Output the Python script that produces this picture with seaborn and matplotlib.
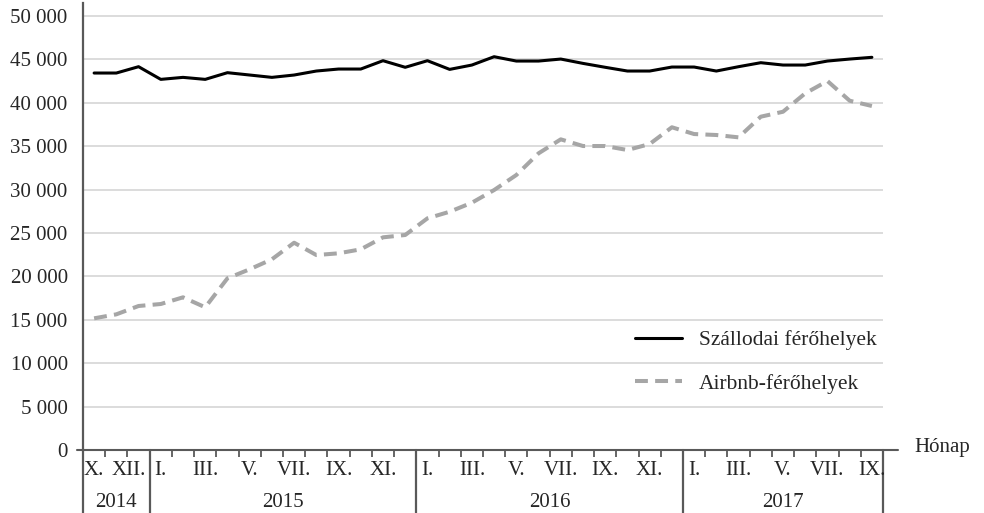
import numpy as np
import pandas as pd
import matplotlib
matplotlib.use('Agg')
import matplotlib.pyplot as plt
import seaborn as sns

# havi adatok 2014. X. - 2017. IX.
honap_cimkek = ['X.', '', 'XII.',
                'I.', '', 'III.', '', 'V.', '', 'VII.', '', 'IX.', '', 'XI.', '',
                'I.', '', 'III.', '', 'V.', '', 'VII.', '', 'IX.', '', 'XI.', '',
                'I.', '', 'III.', '', 'V.', '', 'VII.', '', 'IX.']
evek = ['2014', '2015', '2016', '2017']
evek_honapszam = [3, 12, 12, 9]

szallodai = [43430, 43430, 44160, 42700, 42930, 42700, 43470, 43200, 42930, 43200,
             43660, 43890, 43890, 44850, 44090, 44850, 43850, 44350, 45310, 44810,
             44810, 45040, 44540, 44090, 43660, 43660, 44120, 44120, 43660, 44160,
             44620, 44350, 44350, 44810, 45040, 45240]
airbnb = [15170, 15630, 16590, 16820, 17590, 16440, 19780, 20820, 21970, 23880,
          22460, 22660, 23120, 24500, 24770, 26690, 27450, 28490, 29950, 31680,
          34180, 35790, 35020, 35020, 34560, 35250, 37180, 36400, 36290, 36020,
          38400, 38970, 41090, 42510, 40240, 39630]

df = pd.DataFrame({'idx': np.arange(len(honap_cimkek)), 'Szállodai férőhelyek': szallodai,
                   'Airbnb-férőhelyek': airbnb})

sns.set_style('white')
plt.rcParams['font.family'] = ['Liberation Serif', 'DejaVu Serif']
axis_color = '#595959'
fs = 15

fig = plt.figure(figsize=(9.84, 5.13), dpi=100)
ax = fig.add_axes([83/984, 63/513, 800/984, 447/513])

sns.lineplot(data=df, x='idx', y='Szállodai férőhelyek', color='black', linewidth=2.2,
             label='Szállodai férőhelyek', ax=ax)
sns.lineplot(data=df, x='idx', y='Airbnb-férőhelyek', color='#a6a6a6', linewidth=2.9,
             label='Airbnb-férőhelyek', ax=ax)
ax.lines[1].set_dashes([3.2, 1.8])

n = len(honap_cimkek)
ax.set_xlim(-0.5, n - 0.5)
ax.set_ylim(0, 50000 * 447 / 434)
ax.set_yticks(np.arange(0, 50001, 5000))
ax.set_yticklabels([f'{v:,}'.replace(',', ' ') for v in range(0, 50001, 5000)], fontsize=fs)
ax.yaxis.grid(True, color='#d9d9d9', linewidth=1.3)
ax.set_axisbelow(True)
ax.set_xlabel('')
ax.set_ylabel('')

for s in ['top', 'right', 'bottom']:
    ax.spines[s].set_visible(False)
ax.spines['left'].set_color(axis_color)
ax.spines['left'].set_linewidth(1.6)
ax.tick_params(axis='y', direction='out', length=5, width=1.3, color=axis_color, pad=6)

# x tengely: osztásjelek a hónapok között
ax.set_xticks(np.arange(-0.5, n, 1))
ax.set_xticklabels([])
ax.tick_params(axis='x', direction='out', length=5, width=1.3, color=axis_color, bottom=True)

xt = ax.get_xaxis_transform()
ax.plot([-0.5 - 6/22.25, n - 0.5 + 15/22.25], [0, 0], transform=xt,
        clip_on=False, color=axis_color, linewidth=1.5)

hatarok = np.concatenate([[0], np.cumsum(evek_honapszam)]) - 0.5
for b in hatarok:
    ax.plot([b, b], [0, -63/447], transform=xt, clip_on=False, color=axis_color, linewidth=1.6)

for i, h in enumerate(honap_cimkek):
    if h:
        dx = -7 if i == 2 else 0
        ax.annotate(h, xy=(i, 0), xycoords=xt, xytext=(dx, -15), textcoords='offset points',
                    ha='center', va='center', fontsize=fs)

for ev, a, b in zip(evek, hatarok[:-1], hatarok[1:]):
    ax.annotate(ev, xy=((a + b) / 2, 0), xycoords=xt, xytext=(0, -37.5),
                textcoords='offset points', ha='center', va='center', fontsize=fs)

ax.annotate('Hónap', xy=(1.039, 0), xycoords='axes fraction', xytext=(0, 2),
            textcoords='offset points', ha='left', va='center', fontsize=fs)

ax.legend(loc='upper left', bbox_to_anchor=(0.69, 0.268), frameon=False, fontsize=15.5,
          handlelength=2.2, handletextpad=0.75, labelspacing=1.1, borderpad=0,
          borderaxespad=0)

fig.savefig('out.png', dpi=100)
